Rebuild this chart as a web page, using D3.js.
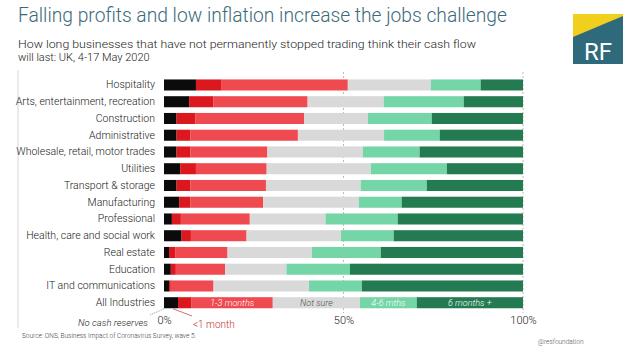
<!DOCTYPE html>
<html>
<head>
<meta charset="utf-8">
<script src="https://cdn.jsdelivr.net/npm/d3@7"></script>
<style>
  html, body { margin: 0; padding: 0; background: #fff; }
  svg { display: block; font-family: Roboto, "Noto Sans", sans-serif; }
</style>
</head>
<body>
<svg id="chart" width="638" height="359"></svg>
<script>
const categories = ["Hospitality", "Arts, entertainment, recreation", "Construction", "Administrative",
  "Wholesale, retail, motor trades", "Utilities", "Transport & storage", "Manufacturing",
  "Professional", "Health, care and social work", "Real estate", "Education",
  "IT and communications", "All Industries"];
const seriesNames = ["No cash reserves", "<1 month", "1-3 months", "Not sure", "4-6 mths", "6 months +"];
const noCash     = [8.9, 7.0, 3.5, 3.5, 3.5, 4.5, 3.5, 4.2, 2.2, 4.9, 1.4, 1.9, 1.4, 3.9];
const lessThan1  = [7.0, 6.7, 5.3, 3.9, 3.9, 4.4, 3.9, 3.2, 2.5, 2.6, 1.7, 1.4, 0.5, 3.8];
const oneToThree = [35.3, 26.3, 30.2, 29.9, 21.4, 19.7, 21.0, 20.2, 19.2, 15.5, 14.6, 13.7, 11.9, 22.6];
const notSure    = [23.1, 21.2, 17.8, 24.0, 26.6, 29.0, 26.4, 26.7, 21.1, 26.3, 23.5, 17.1, 26.6, 24.3];
const fourToSix  = [13.9, 22.3, 17.8, 15.5, 15.8, 21.2, 18.4, 11.9, 20.1, 14.7, 19.2, 17.7, 14.7, 15.8];
const sixPlus    = [11.8, 16.5, 25.4, 23.2, 28.8, 21.2, 26.8, 33.8, 34.9, 36.0, 39.6, 48.2, 44.9, 29.6];
const xTicks = [0, 50, 100];
const xTickLabels = ["0%", "50%", "100%"];

const colors = ["#0b0b0b", "#da181d", "#ee4a4f", "#d9d9d9", "#74d5a6", "#247b52"];
const inBarText = ["", "", "#ffffff", "#555555", "#ffffff", "#ffffff"];

const svg = d3.select("#chart");

// Title & subtitle
svg.append("text").attr("x", 18).attr("y", 22)
  .attr("font-size", 20).attr("font-weight", 300).attr("fill", "#3a6a7a")
  .attr("textLength", 489).attr("lengthAdjust", "spacingAndGlyphs")
  .text("Falling profits and low inflation increase the jobs challenge");
svg.append("text").attr("x", 18).attr("y", 48)
  .attr("font-size", 11).attr("font-weight", 300).attr("fill", "#222")
  .attr("textLength", 458).attr("lengthAdjust", "spacingAndGlyphs")
  .text("How long businesses that have not permanently stopped trading think their cash flow");
svg.append("text").attr("x", 18).attr("y", 61)
  .attr("font-size", 11).attr("font-weight", 300).attr("fill", "#222")
  .text("will last: UK, 4-17 May 2020");

// Logo
const logo = svg.append("g");
logo.append("rect").attr("x", 573).attr("y", 14).attr("width", 50).attr("height", 50).attr("fill", "#2e6a7c");
logo.append("polygon").attr("points", "573,14 623,14 623,16 573,37").attr("fill", "#f1cf1d");
logo.append("text").attr("x", 598).attr("y", 60).attr("text-anchor", "middle")
  .attr("font-size", 24).attr("font-weight", 400).attr("fill", "#fff").text("RF");

// Left rule
svg.append("line").attr("x1", 18).attr("x2", 18).attr("y1", 70).attr("y2", 328)
  .attr("stroke", "#d6d6d6").attr("stroke-width", 1);

const x = d3.scaleLinear().domain([0, 100]).range([164, 523]);
const y = d3.scaleBand().domain(categories).range([76.6, 311.1]).paddingInner(0.34).paddingOuter(0.17);

// gridlines
svg.append("g").selectAll("line").data([50, 100]).join("line")
  .attr("x1", d => x(d)).attr("x2", d => x(d)).attr("y1", 72).attr("y2", 313)
  .attr("stroke", "#aaa").attr("stroke-width", 0.8).attr("stroke-dasharray", "2,2");

const series = [noCash, lessThan1, oneToThree, notSure, fourToSix, sixPlus];
const rows = categories.map((c, i) => {
  const o = { category: c };
  seriesNames.forEach((s, j) => o[s] = series[j][i]);
  return o;
});
const stacked = d3.stack().keys(seriesNames)(rows);

const g = svg.append("g");
g.selectAll("g").data(stacked).join("g")
  .attr("fill", (d, i) => colors[i])
  .selectAll("rect").data(d => d).join("rect")
  .attr("x", d => x(d[0]))
  .attr("width", d => x(d[1]) - x(d[0]))
  .attr("y", d => y(d.data.category))
  .attr("height", y.bandwidth());

// category labels
const yAxis = d3.axisLeft(y).tickSize(0).tickPadding(0);
const ya = svg.append("g").attr("transform", "translate(155,0)").call(yAxis);
ya.select(".domain").remove();
ya.selectAll("text").attr("font-size", 10.5).attr("font-weight", 300).attr("fill", "#222")
  .attr("font-family", "Roboto, sans-serif");

// in-bar labels on last row
const last = categories[categories.length - 1];
stacked.forEach((s, i) => {
  if (!inBarText[i]) return;
  const d = s[s.length - 1];
  svg.append("text")
    .attr("x", (x(d[0]) + x(d[1])) / 2)
    .attr("y", y(last) + y.bandwidth() / 2 + 3.2)
    .attr("text-anchor", "middle").attr("font-size", 9).attr("font-style", "italic")
    .attr("font-weight", 300).attr("fill", inBarText[i]).text(seriesNames[i]);
});

// x axis
const xAxis = d3.axisBottom(x).tickValues(xTicks).tickFormat((d, i) => xTickLabels[i]).tickSize(0).tickPadding(0);
const xa = svg.append("g").attr("transform", "translate(0,318)").call(xAxis);
xa.select(".domain").remove();
xa.selectAll("text").attr("font-size", 11).attr("font-weight", 300).attr("fill", "#222")
  .attr("font-family", "Roboto, sans-serif").attr("dy", "0.55em");

// annotations
const lastRow = stacked[0][stacked[0].length - 1];
const barBottom = y(last) + y.bandwidth();
svg.append("line").attr("x1", x(lastRow[0])).attr("y1", barBottom + 0.5).attr("x2", 150).attr("y2", 315)
  .attr("stroke", "#666").attr("stroke-width", 0.7).attr("stroke-dasharray", "1,1");
svg.append("text").attr("x", 148).attr("y", 325.5).attr("text-anchor", "end")
  .attr("font-size", 9.5).attr("font-style", "italic").attr("font-weight", 300).attr("fill", "#222")
  .text("No cash reserves");
const lt1 = stacked[1][stacked[1].length - 1];
svg.append("line").attr("x1", x(lt1[0]) - 5).attr("y1", barBottom + 0.5).attr("x2", 192).attr("y2", 316)
  .attr("stroke", "#c0302f").attr("stroke-width", 0.7);
svg.append("text").attr("x", 193).attr("y", 328)
  .attr("font-size", 10).attr("font-weight", 300).attr("fill", "#c0302f").text("<1 month");

// source
svg.append("text").attr("x", 22).attr("y", 337.5).attr("font-size", 6.5).attr("fill", "#444")
  .attr("font-weight", 300).text("Source: ONS, Business Impact of Coronavirus Survey, wave 5.");
svg.append("text").attr("x", 538).attr("y", 344).attr("font-size", 6.5).attr("fill", "#555")
  .attr("font-weight", 300).text("@resfoundation");
</script>
</body>
</html>
